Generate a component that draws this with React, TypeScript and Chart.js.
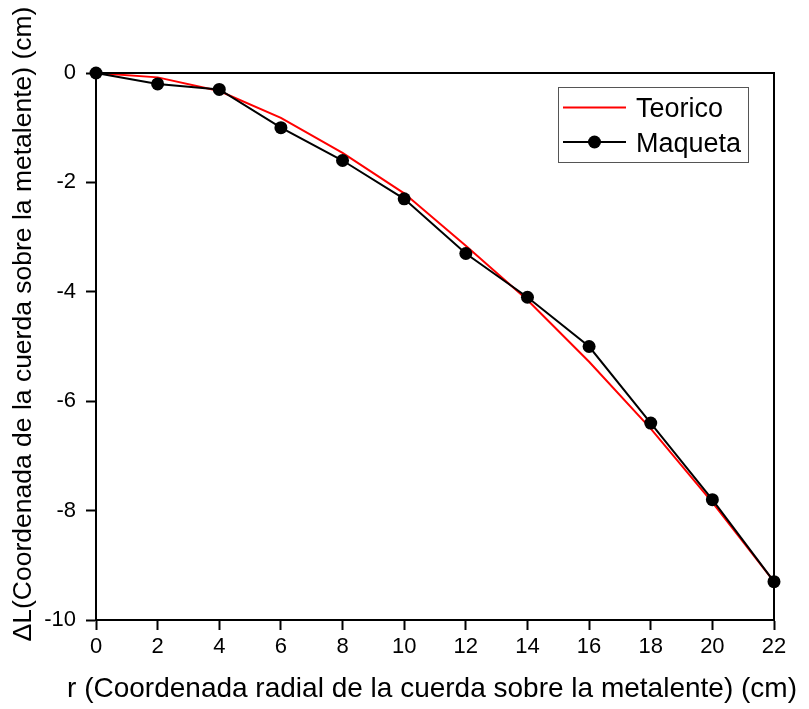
import React, { useEffect, useRef } from "react";
import { Chart, registerables } from "chart.js";

Chart.register(...registerables);

const rValues = [0, 2, 4, 6, 8, 10, 12, 14, 16, 18, 20, 22];
const teoricoValues = [0, -0.08, -0.33, -0.82, -1.46, -2.2, -3.16, -4.15, -5.28, -6.5, -7.85, -9.3];
const maquetaValues = [0, -0.2, -0.3, -1.0, -1.6, -2.3, -3.3, -4.1, -5.0, -6.4, -7.8, -9.3];
const seriesLabels = ["Teorico", "Maqueta"];
const xTitle = "r (Coordenada radial de la cuerda sobre la metalente) (cm)";
const yTitle = "\u0394L(Coordenada de la cuerda sobre la metalente) (cm)";

const FONT = "'Liberation Sans', Arial, sans-serif";

Chart.defaults.font.family = FONT;
Chart.defaults.font.size = 22;
Chart.defaults.color = "#000";

const boxPlugin = {
  id: "boxPlugin",
  afterDatasetsDraw(chart: any) {
    const { ctx, chartArea } = chart;
    ctx.save();
    ctx.strokeStyle = "#000";
    ctx.lineWidth = 2;
    ctx.beginPath();
    ctx.moveTo(chartArea.left, chartArea.top);
    ctx.lineTo(chartArea.right, chartArea.top);
    ctx.lineTo(chartArea.right, chartArea.bottom);
    ctx.stroke();
    ctx.restore();
  },
};

const titlesPlugin = {
  id: "axisTitles",
  afterDraw(chart: any) {
    const { ctx, chartArea } = chart;
    ctx.save();
    ctx.fillStyle = "#000";
    ctx.font = "28px " + FONT;
    ctx.textAlign = "center";
    ctx.textBaseline = "alphabetic";
    ctx.fillText(xTitle, (chartArea.left + chartArea.right) / 2 - 3, 697);
    ctx.translate(31, 324);
    ctx.rotate(-Math.PI / 2);
    ctx.font = "26.5px " + FONT;
    ctx.fillText(yTitle, 0, 0);
    ctx.restore();
  },
};

const legendPlugin = {
  id: "customLegend",
  afterDraw(chart: any) {
    const { ctx } = chart;
    const x = 558, y = 87, w = 190, h = 75;
    ctx.save();
    ctx.fillStyle = "#fff";
    ctx.fillRect(x, y, w, h);
    ctx.strokeStyle = "#555";
    ctx.lineWidth = 1;
    ctx.strokeRect(x + 0.5, y + 0.5, w, h);
    const rows = [
      { ds: chart.data.datasets[1], cy: y + 20.5 },
      { ds: chart.data.datasets[0], cy: y + 55 },
    ];
    ctx.font = "27px " + FONT;
    ctx.textBaseline = "alphabetic";
    for (const row of rows) {
      ctx.strokeStyle = row.ds.borderColor;
      ctx.lineWidth = 2;
      ctx.beginPath();
      ctx.moveTo(x + 5, row.cy);
      ctx.lineTo(x + 68, row.cy);
      ctx.stroke();
      if (row.ds.pointRadius > 0) {
        ctx.fillStyle = row.ds.pointBackgroundColor;
        ctx.beginPath();
        ctx.arc(x + 36.5, row.cy, 6.5, 0, Math.PI * 2);
        ctx.fill();
      }
      ctx.fillStyle = "#000";
      ctx.textAlign = "left";
      ctx.fillText(row.ds.label, x + 78, row.cy + 9.5);
    }
    ctx.restore();
  },
};

export default function App() {
  const canvasRef = useRef<HTMLCanvasElement | null>(null);

  useEffect(() => {
    if (!canvasRef.current) return;
    const chart = new Chart(canvasRef.current, {
      type: "line",
      data: {
        datasets: [
          {
            label: seriesLabels[1],
            data: rValues.map((r, i) => ({ x: r, y: maquetaValues[i] })),
            borderColor: "#000",
            backgroundColor: "#000",
            pointBackgroundColor: "#000",
            pointBorderColor: "#000",
            borderWidth: 2,
            pointRadius: 6.5,
            pointBorderWidth: 0,
            tension: 0,
            clip: false as any,
          },
          {
            label: seriesLabels[0],
            data: rValues.map((r, i) => ({ x: r, y: teoricoValues[i] })),
            borderColor: "#ff0000",
            backgroundColor: "#ff0000",
            pointBackgroundColor: "#ff0000",
            borderWidth: 2,
            pointRadius: 0,
            tension: 0,
            clip: false as any,
          },
        ],
      },
      options: {
        responsive: false,
        animation: false,
        devicePixelRatio: 1,
        layout: { padding: { top: 73, right: 35, left: 0, bottom: 0 } },
        plugins: { legend: { display: false }, tooltip: { enabled: false } },
        scales: {
          x: {
            type: "linear",
            min: 0,
            max: 22,
            afterFit(scale: any) {
              scale.height = 89;
            },
            ticks: {
              stepSize: 2,
              color: "#000",
              padding: 4,
              font: { family: FONT, size: 22 },
              maxRotation: 0,
            },
            grid: {
              drawOnChartArea: false,
              drawTicks: true,
              tickLength: 10,
              tickWidth: 2,
              color: "#000",
            },
            border: { display: true, color: "#000", width: 2 },
            title: { display: false },
          },
          y: {
            type: "linear",
            min: -10,
            max: 0,
            afterFit(scale: any) {
              scale.width = 96;
            },
            ticks: {
              stepSize: 2,
              color: "#000",
              padding: 10,
              font: { family: FONT, size: 22 },
            },
            grid: {
              drawOnChartArea: false,
              drawTicks: true,
              tickLength: 10,
              tickWidth: 2,
              color: "#000",
            },
            border: { display: true, color: "#000", width: 2 },
            title: { display: false },
          },
        },
      },
      plugins: [boxPlugin, titlesPlugin, legendPlugin],
    } as any);
    return () => chart.destroy();
  }, []);

  return (
    <div style={{ position: "absolute", left: 0, top: 0, width: 809, height: 709, background: "#fff" }}>
      <canvas ref={canvasRef} width={809} height={709} style={{ display: "block", width: 809, height: 709 }} />
    </div>
  );
}
